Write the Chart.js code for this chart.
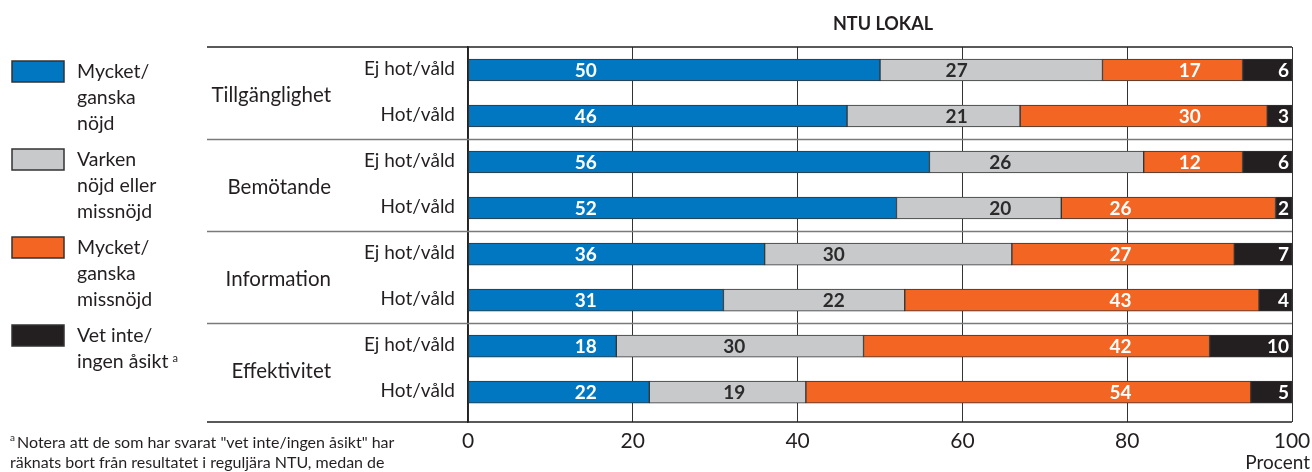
<!DOCTYPE html>
<html lang="sv">
<head>
<meta charset="utf-8">
<title>NTU LOKAL</title>
<script src="https://cdn.jsdelivr.net/npm/chart.js@4.4.0/dist/chart.umd.min.js"></script>
<style>
  html, body { margin: 0; padding: 0; background: #fff; }
  #wrap { width: 1312px; height: 472px; }
</style>
</head>
<body>
<div id="wrap"><canvas id="chart" width="1312" height="472"></canvas></div>
<script>
// Kategorier (grupper och undergrupper)
const groups = ['Tillgänglighet', 'Bemötande', 'Information', 'Effektivitet'];
const subLabels = ['Ej hot/våld', 'Hot/våld'];

// Serier, procent per rad (Ej hot/våld, Hot/våld för varje grupp)
const seriesNames = [
  ['Mycket/', 'ganska', 'nöjd'],
  ['Varken', 'nöjd eller', 'missnöjd'],
  ['Mycket/', 'ganska', 'missnöjd'],
  ['Vet inte/', 'ingen åsikt']
];
const nojd     = [50, 46, 56, 52, 36, 31, 18, 22];
const varken   = [27, 21, 26, 20, 30, 22, 30, 19];
const missnojd = [17, 30, 12, 26, 27, 43, 42, 54];
const vetInte  = [6, 3, 6, 2, 7, 4, 10, 5];
const xTicks   = [0, 20, 40, 60, 80, 100];

const titleText = 'NTU LOKAL';
const axisTitle = 'Procent';
const footnote = [
  'Notera att de som har svarat "vet inte/ingen åsikt" har',
  'räknats bort från resultatet i reguljära NTU, medan de'
];

const COLORS = ['#0077c0', '#c8c9cb', '#f26522', '#231f20'];
const LABEL_COLORS = ['#ffffff', '#2b2b2b', '#ffffff', '#ffffff'];
const INK = '#231f20';
const FONT = 'Lato, "Open Sans", sans-serif';
const NARROW = '"Liberation Sans Narrow", "Arial Narrow", Lato, sans-serif';

// Etikettplacering i originalet (procentskala), svart serie högerställd
const LABEL_ANCHORS = [
  [14.3, 14.3, 14.3, 14.3, 14.3, 14.3, 14.3, 14.3],
  [59.3, 59.3, 64.6, 64.6, 44.4, 44.4, 32.3, 32.3],
  [87.6, 87.6, 87.6, 79.2, 79.2, 79.2, 79.2, 79.2]
];

const allSeries = [nojd, varken, missnojd, vetInte];

const datasets = allSeries.map((vals, s) => ({
  label: seriesNames[s].join(' '),
  data: vals.map((v, i) => ({ x: v, y: i })),
  backgroundColor: COLORS[s],
  borderColor: '#333333',
  borderWidth: 1,
  borderSkipped: false,
  barThickness: 22
}));

// 枠線・区切り線
const framePlugin = {
  id: 'frame',
  beforeDatasetsDraw(chart) {
    const { ctx, chartArea, scales } = chart;
    const y = scales.y;
    ctx.save();
    ctx.lineWidth = 1.5;
    ctx.strokeStyle = '#7a7a7a';
    for (let g = 1; g < groups.length; g++) {
      const py = Math.round(y.getPixelForValue(g * 2 - 0.5)) + 0.5;
      ctx.beginPath();
      ctx.moveTo(207, py);
      ctx.lineTo(chartArea.right, py);
      ctx.stroke();
    }
    ctx.strokeStyle = '#222';
    [chartArea.top, chartArea.bottom].forEach(py => {
      ctx.beginPath();
      ctx.moveTo(207, py);
      ctx.lineTo(chartArea.right, py);
      ctx.stroke();
    });
    ctx.restore();
  },
  afterDatasetsDraw(chart) {
    const { ctx, scales } = chart;
    ctx.save();
    ctx.font = `bold 19px ${NARROW}`;
    ctx.textBaseline = 'middle';
    chart.data.datasets.forEach((ds, s) => {
      const meta = chart.getDatasetMeta(s);
      meta.data.forEach((bar, i) => {
        const { x, y } = bar.getProps(['x', 'y'], true);
        ctx.fillStyle = LABEL_COLORS[s];
        const txt = String(allSeries[s][i]);
        if (s === 3) {
          ctx.textAlign = 'right';
          ctx.fillText(txt, x - 3, y + 1);
        } else {
          ctx.textAlign = 'center';
          ctx.fillText(txt, scales.x.getPixelForValue(LABEL_ANCHORS[s][i]), y + 1);
        }
      });
    });
    ctx.restore();
  },
  afterDraw(chart) {
    const { ctx, chartArea, scales } = chart;
    const y = scales.y;
    ctx.save();
    ctx.fillStyle = INK;
    ctx.textBaseline = 'middle';

    // タイトル
    ctx.font = `bold 18px ${FONT}`;
    ctx.textAlign = 'center';
    ctx.fillText(titleText, (chartArea.left + chartArea.right) / 2 + 3, 24);

    // 行ラベル
    ctx.font = `19px ${FONT}`;
    ctx.textAlign = 'right';
    for (let i = 0; i < nojd.length; i++) {
      ctx.fillText(subLabels[i % 2], 455, y.getPixelForValue(i) - 1);
    }
    ctx.font = `20.5px ${FONT}`;
    groups.forEach((g, k) => {
      ctx.fillText(g, 331, y.getPixelForValue(k * 2 + 0.5) + 2);
    });

    // 凡例
    ctx.textAlign = 'left';
    seriesNames.forEach((lines, s) => {
      const top = 61 + s * 88;
      ctx.fillStyle = COLORS[s];
      ctx.fillRect(12, top, 52, 21);
      ctx.strokeStyle = '#333';
      ctx.lineWidth = 1.5;
      ctx.strokeRect(12, top, 52, 21);
      ctx.fillStyle = INK;
      ctx.font = `19.5px ${FONT}`;
      lines.forEach((ln, k) => {
        ctx.fillText(ln, 77, top + 11 + k * 26);
      });
      if (s === 3) {
        const w = ctx.measureText(lines[lines.length - 1]).width;
        ctx.font = `11px ${FONT}`;
        ctx.fillText('a', 77 + w + 4, top + 11 + (lines.length - 1) * 26 - 4);
      }
    });

    // 軸タイトル
    ctx.font = `19px ${FONT}`;
    ctx.textAlign = 'right';
    ctx.fillText(axisTitle, 1310, 463);

    // 脚注
    ctx.textAlign = 'left';
    ctx.font = `10px ${FONT}`;
    ctx.fillText('a', 10, 438);
    ctx.font = `16px ${FONT}`;
    ctx.fillText(footnote[0], 17, 443);
    ctx.fillText(footnote[1], 10, 463);
    ctx.restore();
  }
};

new Chart(document.getElementById('chart'), {
  type: 'bar',
  data: { datasets },
  options: {
    indexAxis: 'y',
    responsive: false,
    animation: false,
    devicePixelRatio: 1,
    layout: { padding: { left: 468, right: 20, top: 47, bottom: 0 } },
    plugins: {
      legend: { display: false },
      tooltip: { enabled: false }
    },
    scales: {
      x: {
        type: 'linear',
        stacked: true,
        min: 0,
        max: 100,
        afterBuildTicks: (s) => { s.ticks = xTicks.map(v => ({ value: v })); },
        afterFit: (s) => { s.height = 50; s.paddingLeft = 0; s.paddingRight = 0; },
        grid: { color: '#333', lineWidth: 1, drawTicks: false },
        border: { display: false },
        ticks: {
          padding: 7,
          color: INK,
          font: { family: NARROW, size: 21 }
        }
      },
      y: {
        type: 'linear',
        stacked: true,
        reverse: true,
        offset: false,
        min: -0.5,
        max: 7.65,
        afterFit: (s) => { s.width = 0; },
        grid: { display: false, offset: false },
        border: { display: true, color: '#222', width: 1.5 },
        ticks: { display: false }
      }
    }
  },
  plugins: [framePlugin]
});
</script>
</body>
</html>
